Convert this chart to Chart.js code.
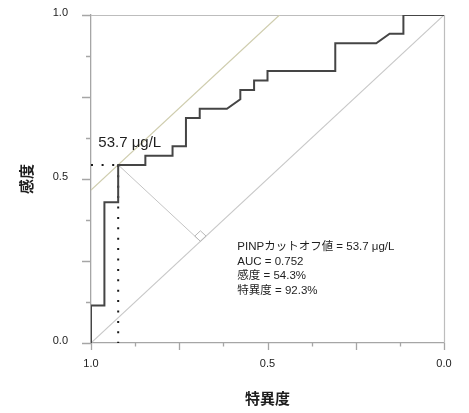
<!DOCTYPE html>
<html><head><meta charset="utf-8">
<script src="https://cdn.jsdelivr.net/npm/chart.js@4/dist/chart.umd.min.js"></script>
<style>html,body{margin:0;padding:0;background:#fff;}#wrap{width:469px;height:413px;}</style>
</head><body><div id="wrap"><canvas id="c" width="469" height="413"></canvas></div>
<script>
// ROC curve (specificity on a reversed x axis, sensitivity on y)
const specificity = [1.000, 1.000, 0.962, 0.962, 0.923, 0.923, 0.846, 0.846, 0.769, 0.769, 0.731, 0.731, 0.692, 0.692, 0.615, 0.577, 0.577, 0.538, 0.538, 0.500, 0.500, 0.308, 0.308, 0.192, 0.154, 0.115, 0.115, 0.000];
const sensitivity = [0.000, 0.114, 0.114, 0.429, 0.429, 0.543, 0.543, 0.571, 0.571, 0.600, 0.600, 0.686, 0.686, 0.714, 0.714, 0.743, 0.771, 0.771, 0.800, 0.800, 0.829, 0.829, 0.914, 0.914, 0.943, 0.943, 1.000, 1.000];
const cutoffSpec = 0.923;
const cutoffSens = 0.543;
const tickValues = [0, 0.125, 0.25, 0.375, 0.5, 0.625, 0.75, 0.875, 1];
const labeledTicks = [0, 0.5, 1];
const cutoffLabel = '53.7 μg/L';
const statLines = ['PINPカットオフ値 = 53.7 μg/L', 'AUC = 0.752', '感度 = 54.3%', '特異度 = 92.3%'];
const xTitle = '特異度';
const yTitle = '感度';

// derived geometry (from the data)
const youden = cutoffSens + cutoffSpec - 1;
const u0 = 1 - cutoffSpec;
const m = (u0 + cutoffSens) / 2;           // foot of perpendicular on chance line
const sq = 0.016;                          // right-angle marker size (data units)
const rocPts = specificity.map((s, i) => ({x: s, y: sensitivity[i]}));
const chancePts = [{x: 1, y: 0}, {x: 0, y: 1}];
const tangentPts = [{x: 1, y: youden}, {x: youden, y: 1}];
const perpPts = [{x: cutoffSpec, y: cutoffSens}, {x: 1 - m, y: m}];
const squarePts = [
  {x: 1 - m, y: m},
  {x: 1 - (m + sq), y: m + sq},
  {x: 1 - m, y: m + 2 * sq},
  {x: 1 - (m - sq), y: m + sq},
  {x: 1 - m, y: m}
];
const hDotPts = [{x: 1, y: cutoffSens}, {x: cutoffSpec, y: cutoffSens}];
const vDotPts = [{x: cutoffSpec, y: cutoffSens}, {x: cutoffSpec, y: 0}];

const LATIN = '"Liberation Sans", Arial, "Noto Sans CJK JP", sans-serif';
const CJK = '"Noto Sans CJK JP", sans-serif';

const frameAndTicks = {
  id: 'frameAndTicks',
  beforeDatasetsDraw(chart) {
    const {ctx, chartArea: a, scales: {x, y}} = chart;
    ctx.save();
    ctx.strokeStyle = '#bdbdbd';
    ctx.lineWidth = 1.2;
    ctx.beginPath();
    ctx.moveTo(a.left, a.top + 0.5);
    ctx.lineTo(a.right + 0.5, a.top + 0.5);
    ctx.lineTo(a.right + 0.5, a.bottom);
    ctx.stroke();
    ctx.strokeStyle = '#a6a6a6';
    ctx.lineWidth = 1.3;
    ctx.beginPath();
    tickValues.forEach(v => {
      const major = Math.abs(v * 4 - Math.round(v * 4)) < 1e-6;
      const py = Math.round(y.getPixelForValue(v)) + 0.5;
      ctx.moveTo(a.left - (major ? 9 : 5), py);
      ctx.lineTo(a.left, py);
      const px = Math.round(x.getPixelForValue(v)) + 0.5;
      ctx.moveTo(px, a.bottom);
      ctx.lineTo(px, a.bottom + (major ? 7 : 3.5));
    });
    ctx.stroke();
    ctx.restore();
  },
  afterDatasetsDraw(chart) {
    const {ctx, chartArea: a, scales: {y}} = chart;
    ctx.save();
    ctx.fillStyle = '#1e1e1e';
    ctx.textAlign = 'left';
    ctx.textBaseline = 'alphabetic';
    ctx.font = '15px ' + LATIN;
    ctx.fillText(cutoffLabel, a.left + 7.3, y.getPixelForValue(cutoffSens) - 18.3);
    ctx.font = '11.5px ' + LATIN;
    statLines.forEach((t, i) => ctx.fillText(t, a.left + 146.3, a.top + 235 + i * 14.6));
    ctx.restore();
  }
};

const axisCommon = {
  type: 'linear', min: 0, max: 1,
  grid: {display: true, drawOnChartArea: false, drawTicks: false},
  border: {display: true, color: '#a6a6a6', width: 1.3},
};

new Chart(document.getElementById('c'), {
  type: 'scatter',
  data: {
    datasets: [
      {data: rocPts, showLine: true, borderColor: '#454545', borderWidth: 2, pointRadius: 0, borderJoinStyle: 'miter'},
      {data: hDotPts, showLine: true, borderColor: '#1a1a1a', borderWidth: 2, borderDash: [2, 8.6], pointRadius: 0},
      {data: vDotPts, showLine: true, borderColor: '#1a1a1a', borderWidth: 2, borderDash: [2, 8.4], pointRadius: 0},
      {data: squarePts, showLine: true, borderColor: '#b8b8b8', borderWidth: 1, pointRadius: 0},
      {data: perpPts, showLine: true, borderColor: '#c4c4c4', borderWidth: 1, pointRadius: 0},
      {data: tangentPts, showLine: true, borderColor: '#cfcdae', borderWidth: 1.2, pointRadius: 0},
      {data: chancePts, showLine: true, borderColor: '#c8c8c8', borderWidth: 1.1, pointRadius: 0}
    ]
  },
  options: {
    responsive: false,
    animation: false,
    events: [],
    layout: {padding: {left: 0, right: 25, top: 15, bottom: 0}},
    plugins: {legend: {display: false}, tooltip: {enabled: false}},
    scales: {
      x: Object.assign({}, axisCommon, {
        reverse: true,
        afterBuildTicks: s => { s.ticks = labeledTicks.map(v => ({value: v})); },
        afterFit: s => { s.height = 70; s.paddingLeft = 0; s.paddingRight = 0; s.paddingTop = 0; s.paddingBottom = 0; },
        ticks: {padding: 14, color: '#222', font: {family: LATIN, size: 11}, callback: v => Number(v).toFixed(1)},
        title: {display: true, text: xTitle, color: '#1e1e1e', font: {family: CJK, size: 15, weight: 'bold'}, padding: {top: 0, bottom: 6}}
      }),
      y: Object.assign({}, axisCommon, {
        afterBuildTicks: s => { s.ticks = labeledTicks.map(v => ({value: v})); },
        afterFit: s => { s.width = 91; s.paddingLeft = 0; s.paddingRight = 0; s.paddingTop = 0; s.paddingBottom = 0; },
        ticks: {padding: 23, labelOffset: -2.5, color: '#222', font: {family: LATIN, size: 11}, callback: v => Number(v).toFixed(1)},
        title: {display: true, text: yTitle, color: '#1e1e1e', font: {family: CJK, size: 15, weight: 'bold'}, padding: {top: 17, bottom: 0}}
      })
    }
  },
  plugins: [frameAndTicks]
});
</script></body></html>
